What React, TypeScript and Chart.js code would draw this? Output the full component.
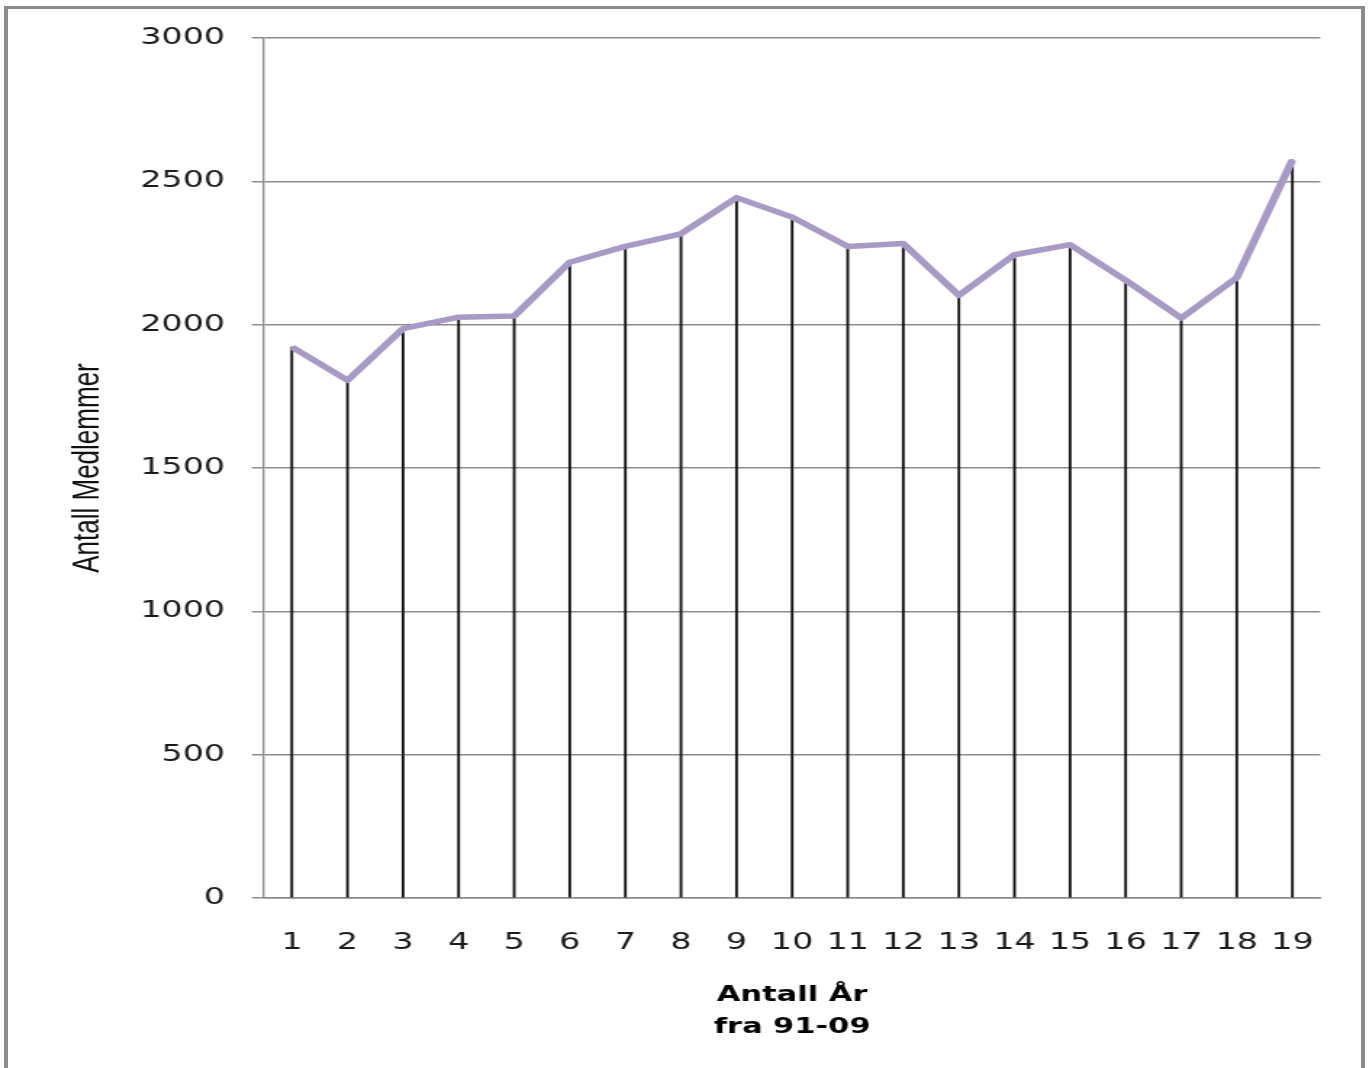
import React, { useEffect, useRef } from "react";
import { Chart, registerables } from "chart.js";

Chart.register(...registerables);

// ---- data ----
const categories = ["1", "2", "3", "4", "5", "6", "7", "8", "9", "10", "11", "12", "13", "14", "15", "16", "17", "18", "19"];
const members = [1922, 1806, 1986, 2026, 2030, 2218, 2273, 2317, 2443, 2375, 2273, 2283, 2102, 2244, 2279, 2155, 2023, 2164, 2575];
const yMin = 0;
const yMax = 3000;
const yStep = 500;
const yAxisTitle = "Antall Medlemmer";
const xAxisTitle = ["Antall År", "fra 91-09"];

// ---- layout (the original picture is stretched horizontally) ----
const PAGE_W = 1369;
const PAGE_H = 1068;
const STRETCH = 1.45;
const W = Math.round(PAGE_W / STRETCH);
const px = (pageX: number) => pageX / STRETCH;
const AREA_LEFT = px(264);
const AREA_RIGHT = px(1320);
const AREA_TOP = 38;
const AREA_BOTTOM = 898;

export default function App() {
  const ref = useRef<HTMLCanvasElement | null>(null);

  useEffect(() => {
    const canvas = ref.current;
    if (!canvas) return;
    const chart = new Chart(canvas, {
      type: "line",
      data: {
        labels: categories,
        datasets: [
          {
            type: "line",
            label: "Medlemmer",
            data: members,
            borderColor: "#a79bc6",
            borderWidth: 5.5,
            pointRadius: 0,
            tension: 0,
            borderJoinStyle: "round",
            order: 0,
          },
          {
            type: "bar",
            label: "drop",
            data: members,
            backgroundColor: "#111111",
            barThickness: 1.2,
            order: 1,
          } as any,
        ],
      },
      options: {
        responsive: false,
        animation: false,
        devicePixelRatio: 1,
        layout: {
          padding: { left: 0, top: AREA_TOP, right: W - AREA_RIGHT, bottom: 0 },
        },
        plugins: {
          legend: { display: false },
          tooltip: { enabled: false },
          title: { display: false },
        },
        scales: {
          x: {
            type: "category",
            offset: true,
            grid: { display: false, drawTicks: false },
            border: { display: true, color: "#8c8c8c", width: 1.5 },
            ticks: {
              font: { family: "'DejaVu Sans'", size: 23 },
              color: "#1a1a1a",
              padding: 31,
              maxRotation: 0,
              autoSkip: false,
            },
            title: {
              display: true,
              text: xAxisTitle,
              font: { family: "'DejaVu Sans'", size: 21, weight: "bold", lineHeight: 32 / 21 },
              color: "#000000",
              padding: { top: 0, bottom: 24 },
            },
            afterFit: (scale: any) => {
              scale.height = PAGE_H - AREA_BOTTOM;
            },
          },
          y: {
            min: yMin,
            max: yMax,
            grid: { color: "#8c8c8c", lineWidth: 1.5, tickLength: px(12), drawTicks: true },
            border: { display: true, color: "#8c8c8c", width: 1.4 },
            ticks: {
              stepSize: yStep,
              font: { family: "'DejaVu Sans'", size: 23 },
              color: "#1a1a1a",
              padding: px(39) - px(12),
              callback: (value: any) => String(value),
            },
            title: {
              display: true,
              text: yAxisTitle,
              font: { family: "'Liberation Sans'", size: 26 },
              color: "#111111",
              padding: { top: px(88) - 15.6, bottom: 0 },
            },
            afterFit: (scale: any) => {
              scale.width = AREA_LEFT;
            },
          },
        },
      },
    } as any);
    return () => chart.destroy();
  }, []);

  return (
    <div style={{ position: "absolute", left: 0, top: 0, width: PAGE_W, height: PAGE_H, overflow: "hidden", background: "#ffffff" }}>
      <div
        style={{
          position: "absolute",
          left: 4,
          top: 6,
          width: 1361,
          height: 1200,
          boxSizing: "border-box",
          borderTop: "3px solid #8a8a8a",
          borderLeft: "4px solid #8a8a8a",
          borderRight: "4px solid #8a8a8a",
        }}
      />
      <canvas
        ref={ref}
        width={W}
        height={PAGE_H}
        style={{ position: "absolute", left: 0, top: 0, width: PAGE_W + "px", height: PAGE_H + "px" }}
      />
    </div>
  );
}
